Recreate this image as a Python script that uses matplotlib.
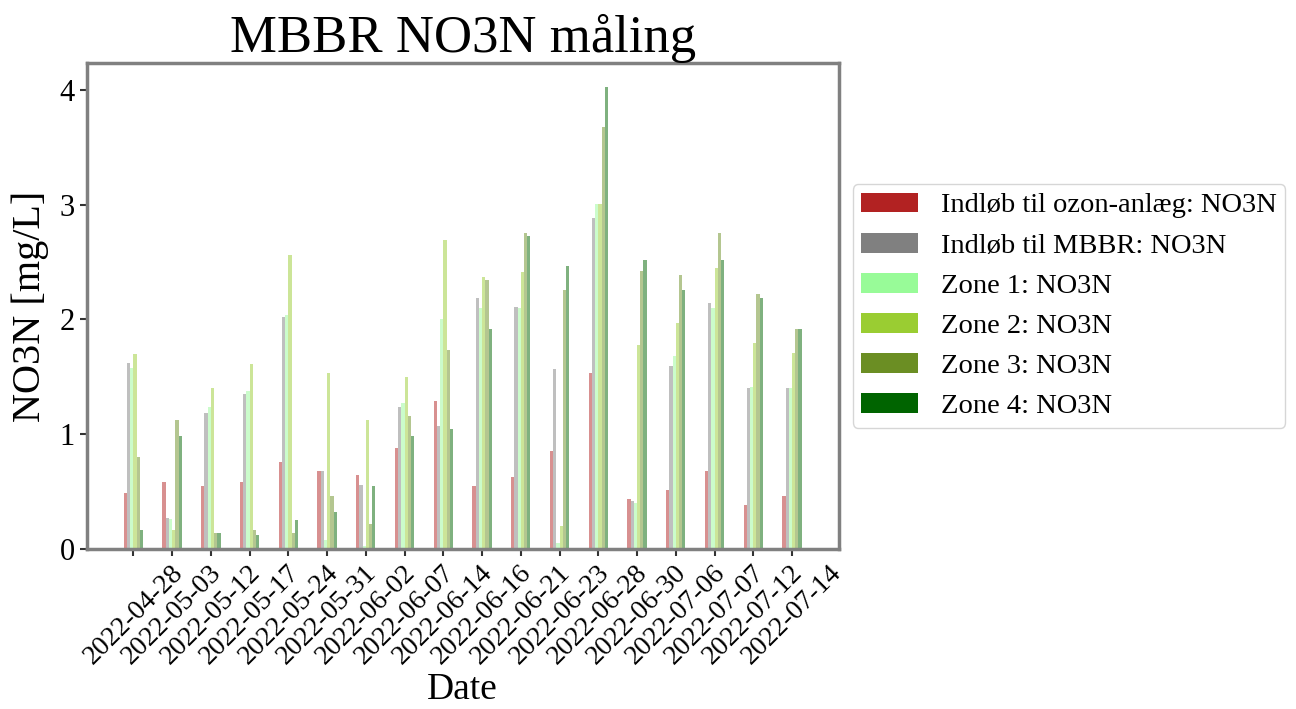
import matplotlib
matplotlib.use("Agg")
import matplotlib.pyplot as plt
import numpy as np

plt.rcParams['font.family'] = ['Liberation Serif', 'DejaVu Serif']

dates = ["2022-04-28", "2022-05-03", "2022-05-12", "2022-05-17", "2022-05-24",
         "2022-05-31", "2022-06-02", "2022-06-07", "2022-06-14", "2022-06-16",
         "2022-06-21", "2022-06-23", "2022-06-28", "2022-06-30", "2022-07-06",
         "2022-07-07", "2022-07-12", "2022-07-14"]

ozon_inlet = [0.49, 0.58, 0.55, 0.58, 0.76, 0.68, 0.64, 0.88, 1.29, 0.55,
              0.63, 0.85, 1.53, 0.43, 0.51, 0.68, 0.38, 0.46]
mbbr_inlet = [1.62, 0.27, 1.18, 1.35, 2.02, 0.68, 0.56, 1.24, 1.07, 2.19,
              2.11, 1.57, 2.88, 0.42, 1.59, 2.14, 1.40, 1.40]
zone1 = [1.58, 0.26, 1.24, 1.38, 2.04, 0.08, 0.02, 1.27, 2.00, 2.10,
         2.10, 0.05, 3.01, 0.40, 1.68, 2.10, 1.41, 1.40]
zone2 = [1.70, 0.16, 1.40, 1.61, 2.56, 1.53, 1.12, 1.50, 2.69, 2.37,
         2.41, 0.20, 3.01, 1.78, 1.97, 2.45, 1.79, 1.71]
zone3 = [0.80, 1.12, 0.14, 0.16, 0.14, 0.46, 0.22, 1.16, 1.73, 2.34,
         2.75, 2.26, 3.68, 2.42, 2.39, 2.75, 2.22, 1.92]
zone4 = [0.16, 0.98, 0.14, 0.12, 0.25, 0.32, 0.55, 0.98, 1.04, 1.92,
         2.73, 2.47, 4.03, 2.52, 2.26, 2.52, 2.19, 1.92]

series = [ozon_inlet, mbbr_inlet, zone1, zone2, zone3, zone4]
labels = ["Indløb til ozon-anlæg: NO3N", "Indløb til MBBR: NO3N",
          "Zone 1: NO3N", "Zone 2: NO3N", "Zone 3: NO3N", "Zone 4: NO3N"]
colors = ["firebrick", "gray", "palegreen", "yellowgreen", "olivedrab", "darkgreen"]

fig = plt.figure(figsize=(12.96, 7.09), dpi=100)
ax = fig.add_axes([0.067, 0.226, 0.580, 0.685])

x = np.arange(len(dates))
n = len(series)
total = 0.5
w = total / n
for i, (vals, lab, col) in enumerate(zip(series, labels, colors)):
    ax.bar(x - total / 2 + w * (i + 0.5), vals, width=w, color=col, alpha=0.5, label=lab)

ax.set_xlim(-1.2, len(dates) - 1 + 1.2)
ax.set_ylim(0, 4.235)
ax.set_xticks(x)
ax.set_xticklabels(dates, rotation=45, ha='center', fontsize=20)
ax.set_yticks([0, 1, 2, 3, 4])
ax.tick_params(axis='y', labelsize=22)
ax.tick_params(axis='both', length=5, width=1.5, color='#333333')
for s in ax.spines.values():
    s.set_color('#808080')
    s.set_linewidth(2.5)

ax.set_title("MBBR NO3N måling", fontsize=38, pad=8)
ax.set_ylabel("NO3N [mg/L]", fontsize=29, labelpad=8)
ax.set_xlabel("Date", fontsize=27, labelpad=2)

leg = ax.legend(loc='center left', bbox_to_anchor=(1.019, 0.5), borderaxespad=0,
                fontsize=20.5, frameon=True, handlelength=2.0, labelspacing=0.5,
                borderpad=0.3)
for h in leg.legend_handles:
    h.set_alpha(1)

fig.savefig("out.png", dpi=100)
